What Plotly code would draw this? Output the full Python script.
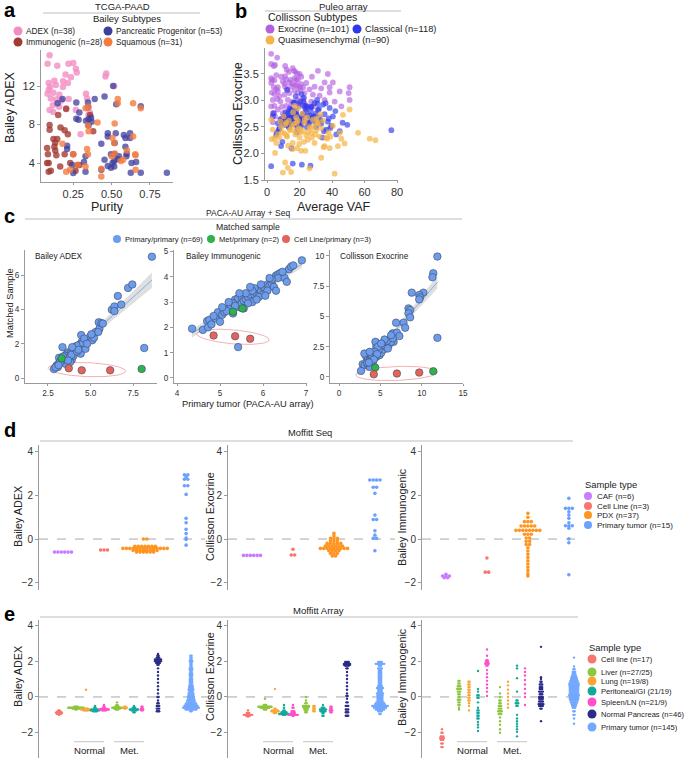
import numpy as np
import plotly.graph_objects as go

W, H = 685, 758
FONT = "Liberation Sans, Arial, Helvetica, sans-serif"

# ======================= DATA =======================
# ---- Panel a: TCGA-PAAD, Bailey subtypes (purity vs Bailey ADEX) ----
a_adex_purity = [0.096, 0.083, 0.146, 0.219, 0.267, 0.273, 0.235, 0.200, 0.183, 0.215,
                 0.127, 0.090, 0.100, 0.137, 0.183, 0.083, 0.121, 0.090, 0.160, 0.104,
                 0.140, 0.220, 0.173, 0.333, 0.340, 0.117, 0.158, 0.096, 0.120, 0.204,
                 0.267, 0.350, 0.298, 0.465, 0.460, 0.517, 0.358, 0.250]
a_adex_score = [15.2, 14.3, 14.1, 14.3, 13.8, 13.4, 12.9, 13.2, 12.5, 12.3,
                12.55, 12.3, 11.9, 12.1, 11.9, 11.2, 11.3, 11.6, 11.1, 10.7,
                10.6, 10.65, 10.5, 11.2, 10.7, 10.0, 9.85, 9.5, 9.3, 9.7,
                9.5, 9.0, 7.0, 13.3, 13.0, 12.0, 9.25, 14.4]
a_pp_purity = [0.51, 0.454, 0.39, 0.18, 0.148, 0.27, 0.346, 0.346, 0.29, 0.285,
               0.27, 0.333, 0.35, 0.366, 0.37, 0.35, 0.53, 0.69, 0.86, 0.527,
               0.475, 0.475, 0.59, 0.62, 0.62, 0.58, 0.433, 0.52, 0.21, 0.21,
               0.59, 0.496, 0.52, 0.548, 0.598, 0.596, 0.54, 0.517, 0.506, 0.454,
               0.475, 0.33, 0.32, 0.244, 0.33, 0.25, 0.433, 0.496, 0.63, 0.66,
               0.625, 0.69, 0.517]
a_pp_score = [12.0, 10.9, 10.65, 10.65, 10.2, 10.3, 10.3, 9.8, 9.25, 8.5,
              8.6, 8.4, 8.55, 8.7, 8.3, 7.9, 10.1, 9.9, 3.0, 7.1,
              7.1, 6.75, 6.6, 6.6, 7.1, 6.9, 6.0, 6.07, 5.8, 5.45,
              5.7, 4.9, 4.9, 4.7, 4.96, 4.7, 4.4, 4.2, 4.0, 4.35,
              3.7, 4.7, 4.1, 3.8, 3.1, 2.97, 3.3, 3.5, 4.0, 4.1,
              3.0, 3.0, 3.65]
a_imm_purity = [0.096, 0.096, 0.167, 0.152, 0.204, 0.194, 0.215, 0.121, 0.146, 0.08,
                0.127, 0.133, 0.085, 0.14, 0.194, 0.25, 0.08, 0.09, 0.165, 0.09,
                0.104, 0.23, 0.28, 0.29, 0.265, 0.38, 0.36, 0.133]
a_imm_score = [7.96, 7.45, 7.7, 9.0, 9.6, 7.4, 7.0, 6.5, 6.5, 5.55,
               5.7, 5.3, 4.9, 4.8, 4.9, 4.9, 4.0, 4.0, 3.65, 3.1,
               3.2, 4.0, 3.8, 3.8, 3.2, 7.3, 9.0, 6.1]
a_sq_purity = [0.54, 0.54, 0.64, 0.69, 0.33, 0.35, 0.346, 0.408, 0.35, 0.52,
               0.506, 0.517, 0.64, 0.34, 0.52, 0.50, 0.60, 0.654, 0.56, 0.575,
               0.656, 0.346, 0.204, 0.23, 0.279, 0.33, 0.433, 0.433, 0.656, 0.25,
               0.18]
a_sq_score = [10.65, 10.2, 10.2, 9.7, 9.7, 9.85, 7.9, 8.2, 7.3, 8.1,
              6.6, 6.07, 6.75, 5.45, 5.0, 4.7, 5.3, 4.9, 4.2, 4.35,
              4.8, 4.9, 3.1, 3.3, 3.8, 3.65, 3.4, 2.6, 3.3, 4.9,
              6.0]

# ---- Panel b: Puleo array, Collisson subtypes (average VAF vs Collisson Exocrine) ----
b_exo_vaf = [2.5, 6.2, 2.5, 4.1, 4.9, 11.1, 12.1, 13.4, 16.5, 17.5,
             18.5, 15.8, 20.0, 21.0, 31.3, 37.4, 2.5, 3.1, 4.5, 2.5,
             6.6, 4.1, 5.6, 9.7, 10.7, 11.1, 12.3, 13.8, 15.8, 17.3,
             18.5, 20.0, 21.0, 24.1, 27.6, 29.2, 35.4, 40.5, 44.7, 50.8,
             50.2, 38.5, 32.3, 28.2, 23.0, 18.9, 16.9, 13.8, 10.7, 7.6,
             4.5, 2.9, 3.5, 8.2, 12.8, 15.8, 18.9, 23.0, 27.2, 9.1,
             11.7, 14.8, 17.5, 20.0, 6.6, 3.5, 3.5, 9.7, 13.2, 16.9,
             22.0, 24.1, 28.2, 35.4, 41.6, 45.7, 50.8, 6.6, 11.7, 16.9,
             22.2, 5.6, 8.6, 14.4, 17.9, 11.1, 14.8, 18.9, 20.6, 26.1,
             38.5, 33.3, 6.2, 22.0, 4.9, 2.5, 4.5, 12.3, 8.6, 15.8,
             13.8]
b_exo_score = [3.88, 3.81, 3.69, 3.65, 3.67, 3.65, 3.58, 3.54, 3.56, 3.54,
               3.50, 3.61, 3.50, 3.45, 3.56, 3.50, 3.42, 3.39, 3.38, 3.33,
               3.25, 3.25, 3.21, 3.36, 3.31, 3.26, 3.21, 3.34, 3.31, 3.29,
               3.28, 3.25, 3.31, 3.33, 3.45, 3.26, 3.34, 3.34, 3.17, 3.25,
               3.14, 3.15, 3.09, 3.11, 3.14, 3.15, 3.19, 3.14, 3.11, 3.08,
               3.12, 3.15, 3.01, 2.98, 3.01, 2.98, 3.01, 2.95, 2.98, 2.88,
               2.90, 2.92, 2.84, 2.89, 2.83, 2.76, 2.59, 2.76, 2.81, 2.76,
               2.73, 2.83, 2.88, 3.01, 2.98, 2.89, 3.01, 3.17, 3.40, 3.42,
               3.25, 3.48, 3.45, 3.39, 3.39, 3.46, 3.26, 3.39, 3.21, 3.21,
               3.25, 3.23, 3.03, 3.04, 2.70, 2.89, 2.90, 2.70, 2.65, 2.65,
               2.58]
b_cls_vaf = [2.5, 15.8, 21.4, 26.7, 76.5, 49.4, 44.7, 8.6, 4.1, 9.7,
             11.1, 12.3, 13.8, 14.8, 15.8, 16.9, 17.9, 18.9, 20.0, 21.0,
             22.0, 23.0, 24.1, 25.1, 26.1, 27.2, 28.2, 29.2, 30.2, 31.3,
             32.3, 33.3, 34.4, 35.4, 36.4, 37.4, 38.5, 39.5, 40.5, 42.6,
             6.6, 7.6, 8.2, 9.1, 10.2, 10.7, 11.7, 12.8, 13.4, 14.4,
             15.2, 16.1, 17.1, 18.2, 19.1, 20.3, 21.6, 22.7, 23.8, 25.5,
             27.0, 28.8, 30.8, 33.0, 36.0, 38.9, 42.0, 46.5, 5.6, 7.2,
             8.9, 10.4, 12.0, 13.1, 14.0, 15.5, 16.6, 17.6, 18.6, 19.6,
             20.6, 22.3, 24.5, 26.4, 29.6, 31.9, 35.0, 3.5, 6.0, 9.4,
             11.4, 12.6, 14.6, 16.3, 18.0, 19.4, 21.2, 23.4, 25.8, 28.4,
             31.0, 34.0, 37.9, 11.9, 13.6, 16.8, 19.9, 22.9, 26.9, 9.9,
             14.2, 17.4, 20.8, 24.8, 30.0, 12.4, 18.4, 15.0]
b_cls_score = [1.76, 1.81, 1.79, 1.77, 2.44, 2.54, 2.42, 2.14, 2.76, 2.62,
               2.55, 2.68, 2.58, 2.62, 2.72, 2.55, 2.80, 2.60, 2.66, 2.52,
               2.75, 2.62, 2.90, 2.70, 2.58, 2.88, 2.64, 2.95, 2.50, 2.82,
               2.68, 2.56, 2.92, 2.74, 2.45, 2.60, 2.86, 2.52, 2.70, 2.36,
               2.57, 2.48, 2.65, 2.60, 2.70, 2.54, 2.63, 2.76, 2.50, 2.67,
               2.82, 2.58, 2.96, 2.72, 2.62, 2.98, 2.66, 3.05, 2.78, 2.56,
               2.88, 2.70, 3.01, 2.62, 2.95, 2.48, 2.80, 2.58, 2.35, 2.45,
               2.57, 2.70, 2.60, 2.53, 2.85, 2.64, 2.58, 3.08, 2.47, 2.92,
               2.55, 2.98, 2.50, 2.72, 2.60, 2.84, 2.42, 2.70, 2.40, 2.22,
               2.78, 2.66, 2.82, 2.96, 2.74, 2.54, 3.12, 2.86, 2.64, 2.70,
               2.94, 2.30, 2.66, 2.60, 2.49, 2.77, 2.68, 2.90, 2.80, 2.63,
               2.72, 2.55, 2.61, 2.88, 2.75, 3.20, 2.40, 2.10]
b_qm_vaf = [2.5, 3.5, 4.5, 2.9, 4.9, 11.1, 9.7, 14.8, 12.8, 26.1,
            33.3, 41.6, 56.0, 63.2, 66.7, 50.8, 46.7, 44.7, 45.7, 47.7,
            43.6, 35.4, 7.6, 8.6, 10.7, 11.7, 12.3, 13.4, 14.4, 15.8,
            16.5, 17.3, 17.9, 18.5, 19.4, 20.0, 21.0, 22.0, 23.0, 24.1,
            25.1, 26.1, 27.2, 28.2, 29.2, 30.2, 31.3, 32.3, 33.3, 34.4,
            36.4, 38.5, 40.5, 9.1, 10.2, 13.0, 15.2, 16.9, 18.9, 20.6,
            22.7, 24.6, 26.7, 29.7, 32.8, 36.9, 6.6, 8.2, 11.4, 14.0,
            17.6, 19.8, 21.6, 23.6, 27.6, 31.0, 34.8, 39.0, 12.0, 16.0,
            18.2, 20.3, 25.0, 28.7, 5.6, 19.0, 23.2, 30.5, 15.5, 37.8]
b_qm_score = [2.64, 2.45, 2.29, 2.27, 2.01, 1.83, 1.64, 1.65, 1.73, 1.72,
              1.92, 1.62, 2.39, 2.28, 2.25, 2.83, 2.73, 2.39, 2.28, 2.19,
              2.14, 2.14, 2.30, 2.50, 2.38, 2.58, 2.32, 2.62, 2.44, 2.20,
              2.56, 2.36, 2.68, 2.10, 2.48, 2.30, 2.05, 2.42, 2.58, 2.34,
              2.26, 2.50, 2.38, 2.64, 2.20, 2.44, 2.56, 2.32, 2.48, 2.62,
              2.30, 2.10, 2.52, 2.40, 2.70, 2.15, 2.52, 2.90, 2.62, 2.40,
              2.22, 2.68, 2.46, 2.36, 2.74, 2.28, 2.36, 2.60, 2.55, 2.45,
              2.42, 2.18, 2.75, 2.05, 2.30, 2.58, 2.12, 2.32, 2.34, 2.78,
              2.58, 2.46, 2.40, 2.52, 2.20, 2.85, 2.64, 2.66, 2.08, 2.40]

# ---- Panel c: PACA-AU array (primary tumor) vs matched sample ----
c_adex_pp_x = [2.85, 3.0, 3.1, 3.15, 3.35, 3.25, 3.45, 3.55, 3.65, 3.75,
               3.85, 3.98, 4.1, 4.17, 4.3, 4.37, 4.48, 4.42, 3.9, 3.8,
               3.52, 3.08, 4.67, 4.7, 4.98, 5.1, 5.2, 5.3, 5.48, 5.52,
               5.45, 5.63, 5.72, 6.25, 6.4, 6.4, 6.6, 6.8, 7.2, 7.45,
               8.6, 8.15, 3.6, 3.7, 3.82, 3.95, 4.05, 4.15, 4.25, 3.4,
               3.5, 3.3, 2.95, 3.2, 4.45, 4.55, 4.62, 4.0, 3.62, 3.72,
               3.88, 4.2, 4.28, 3.12, 3.38, 3.92, 4.8, 5.05, 3.68]
c_adex_pp_y = [0.52, 0.72, 0.82, 1.18, 1.8, 1.02, 1.06, 1.22, 1.32, 1.38,
               1.22, 1.5, 1.6, 1.7, 1.8, 1.95, 2.1, 1.42, 1.07, 0.93,
               0.83, 0.64, 1.95, 1.7, 2.42, 2.2, 2.35, 2.68, 3.25, 2.87,
               2.68, 3.2, 3.17, 3.98, 4.17, 3.9, 4.78, 4.28, 5.25, 5.45,
               7.07, 1.75, 1.4, 1.5, 1.45, 1.62, 1.75, 1.85, 1.9, 1.12,
               1.3, 1.0, 0.62, 0.9, 2.5, 2.05, 2.3, 1.3, 1.15, 1.2,
               1.35, 1.55, 1.65, 0.75, 1.25, 1.8, 2.0, 2.55, 1.02]
c_adex_met_x = [3.3, 8.0]
c_adex_met_y = [1.15, 0.53]
c_adex_cl_x = [3.72, 4.48, 6.15]
c_adex_cl_y = [0.57, 0.45, 0.45]

c_imm_pp_x = [4.35, 4.6, 4.7, 4.75, 4.72, 4.8, 4.9, 4.95, 5.05, 5.1,
              5.0, 5.2, 5.25, 5.3, 5.35, 5.4, 5.42, 5.5, 5.45, 5.5,
              5.55, 5.6, 5.65, 5.7, 5.75, 5.8, 5.85, 5.9, 5.95, 6.0,
              6.05, 6.1, 6.15, 6.2, 6.25, 6.3, 6.35, 6.4, 6.35, 6.5,
              6.6, 6.65, 6.7, 6.9, 5.42, 6.3, 6.0, 5.9, 5.65, 5.3,
              5.15, 5.6, 5.8, 6.1, 6.2, 5.75, 5.45, 5.35, 5.55, 5.05,
              6.45, 6.55, 5.85, 6.05, 5.2, 4.85, 5.7, 6.15, 5.95]
c_imm_pp_y = [1.95, 1.9, 2.25, 2.3, 2.0, 2.12, 2.35, 2.6, 2.5, 2.6,
              2.22, 2.75, 2.8, 2.55, 3.1, 3.0, 3.15, 3.2, 2.8, 2.95,
              3.05, 3.1, 3.2, 3.3, 3.0, 3.3, 3.35, 3.5, 3.45, 3.6,
              3.55, 3.7, 3.65, 3.75, 3.6, 4.05, 4.1, 4.15, 3.95, 3.95,
              4.3, 4.4, 4.45, 4.65, 1.22, 3.45, 3.3, 3.2, 2.95, 2.95,
              2.65, 3.35, 3.55, 3.45, 3.9, 3.45, 3.35, 2.85, 2.75, 2.8,
              4.2, 3.8, 3.1, 3.25, 3.0, 2.45, 3.6, 3.95, 3.7]
c_imm_met_x = [5.3, 5.52]
c_imm_met_y = [2.62, 2.75]
c_imm_cl_x = [4.85, 5.35, 5.7]
c_imm_cl_y = [1.68, 1.65, 1.55]

c_exo_pp_x = [11.9, 11.4, 11.3, 11.9, 8.8, 10.2, 9.7, 9.8, 9.7, 8.4,
              8.6, 8.4, 8.6, 7.8, 8.0, 6.9, 6.5, 6.4, 6.6, 6.1,
              5.9, 5.7, 5.5, 5.3, 5.1, 5.06, 4.5, 4.4, 4.7, 4.2,
              4.5, 4.9, 3.7, 3.3, 3.5, 3.75, 4.1, 3.9, 3.06, 2.86,
              3.1, 3.5, 2.65, 3.7, 4.4, 5.1, 5.4, 5.7, 6.0, 6.3,
              5.8, 5.2, 4.8, 4.7, 4.0, 4.3, 3.7, 3.4, 7.0, 7.3,
              5.5, 4.6, 3.9, 5.1, 6.5, 6.3, 5.9, 4.2, 3.6]
c_exo_pp_y = [9.94, 8.56, 8.23, 3.23, 6.96, 6.96, 6.77, 6.57, 6.4, 5.66,
              5.52, 5.25, 4.92, 4.48, 4.06, 4.48, 3.6, 3.3, 2.9, 3.04,
              2.76, 2.9, 2.7, 2.49, 2.35, 2.15, 2.49, 2.9, 2.07, 1.93,
              1.66, 1.8, 1.88, 1.66, 1.44, 1.44, 1.24, 1.66, 1.93, 1.05,
              0.97, 0.97, 0.5, 0.83, 1.66, 1.99, 2.27, 2.49, 2.62, 2.9,
              2.99, 2.62, 2.27, 2.49, 1.66, 2.07, 2.07, 1.16, 3.65, 3.37,
              3.09, 1.88, 1.3, 2.76, 3.2, 3.45, 2.35, 1.44, 1.19]
c_exo_met_x = [4.37, 11.4]
c_exo_met_y = [0.77, 0.47]
c_exo_cl_x = [4.2, 7.0, 9.7]
c_exo_cl_y = [0.22, 0.28, 0.36]

# ---- Panel d: Moffitt Seq dot plots, (score, number of stacked dots) per bin ----
d_categories = ["CAF", "Cell Line", "PDX", "Primary tumor"]
d_legend = ["CAF (n=6)", "Cell Line (n=3)", "PDX (n=37)", "Primary tumor (n=15)"]
d_adex = [
    [(-0.6, 6)],
    [(-0.5, 3)],
    [(0.0, 2), (-0.33, 7), (-0.43, 14), (-0.52, 8), (-0.6, 6)],
    [(2.95, 2), (2.85, 1), (2.75, 2), (2.45, 2), (2.05, 1), (0.95, 1), (0.75, 1),
     (0.45, 1), (0.25, 1), (0.05, 1), (-0.02, 1), (-0.28, 1)],
]
d_exo = [
    [(-0.75, 6)],
    [(-0.47, 1), (-0.73, 2)],
    [(0.26, 1), (0.14, 1), (0.03, 3), (-0.08, 3), (-0.2, 5), (-0.32, 6), (-0.43, 9),
     (-0.54, 4), (-0.66, 3), (-0.78, 2)],
    [(2.71, 4), (2.38, 2), (2.1, 1), (1.1, 1), (0.9, 2), (0.38, 1), (0.18, 1),
     (0.03, 2), (-0.54, 1)],
]
d_imm = [
    [(-1.62, 1), (-1.7, 3), (-1.78, 2)],
    [(-0.87, 1), (-1.52, 2)],
    [(1.18, 1), (1.0, 1), (0.8, 3), (0.6, 5), (0.4, 8), (0.22, 3), (0.05, 2), (-0.1, 2),
     (-0.25, 2), (-0.4, 1), (-0.55, 1), (-0.7, 1), (-0.85, 1), (-1.0, 1), (-1.15, 1),
     (-1.3, 1), (-1.45, 1), (-1.6, 1), (-1.7, 1)],
    [(1.87, 1), (1.41, 3), (1.25, 1), (1.1, 1), (0.95, 1), (0.75, 1), (0.61, 3),
     (0.5, 1), (0.01, 1), (-0.17, 1), (-1.64, 1)],
]

# ---- Panel e: Moffitt Array dot plots, (score, number of stacked dots) per bin ----
e_categories = ["Cell line", "Liver (normal)", "Lung (normal)", "Peritoneal/GI (normal)",
                "Spleen/LN (normal)", "Liver (met)", "Lung (met)", "Peritoneal/GI (met)",
                "Spleen/LN (met)", "Normal Pancreas", "Primary tumor"]
e_tissue = ["cell", "liver", "lung", "peri", "spleen", "liver", "lung", "peri", "spleen",
            "np", "pt"]
e_legend_keys = ["cell", "liver", "lung", "peri", "spleen", "np", "pt"]
e_legend = ["Cell line (n=17)", "Liver (n=27/25)", "Lung (n=19/8)", "Peritoneal/GI (21/19)",
            "Spleen/LN (n=21/9)", "Normal Pancreas (n=46)", "Primary tumor (n=145)"]
e_adex = [
    [(-0.75, 2), (-0.82, 4), (-0.88, 6), (-0.95, 4), (-1.0, 1)],
    [(-0.55, 4), (-0.6, 14), (-0.65, 7), (-0.7, 2)],
    [(0.4, 1), (-0.65, 4), (-0.7, 9), (-0.75, 5)],
    [(-0.5, 1), (-0.6, 2), (-0.7, 6), (-0.75, 8), (-0.8, 4)],
    [(-0.45, 1), (-0.55, 2), (-0.65, 5), (-0.7, 9), (-0.75, 4)],
    [(-0.3, 1), (-0.45, 2), (-0.55, 4), (-0.6, 9), (-0.65, 6), (-0.7, 3)],
    [(-0.55, 2), (-0.6, 4), (-0.65, 2)],
    [(-0.5, 1), (-0.6, 3), (-0.7, 8), (-0.75, 5), (-0.85, 2)],
    [(-0.55, 2), (-0.65, 2), (-0.7, 3), (-0.75, 2)],
    [(2.4, 1), (2.3, 2), (2.2, 3), (2.1, 6), (2.0, 6), (1.9, 4), (1.8, 2), (1.6, 1), (1.4, 1),
     (1.2, 1), (1.0, 1), (0.8, 1), (0.6, 1), (0.4, 1), (0.2, 1), (0.0, 2), (-0.2, 1),
     (-0.35, 2), (-0.5, 3), (-0.65, 3), (-0.8, 3)],
    [(2.3, 2), (2.2, 2), (2.1, 2), (2.0, 3), (1.9, 2), (1.8, 2), (1.7, 2), (1.6, 3), (1.5, 3),
     (1.4, 2), (1.3, 3), (1.2, 3), (1.1, 2), (1.0, 3), (0.9, 3), (0.8, 3), (0.7, 3), (0.6, 4),
     (0.5, 4), (0.4, 5), (0.3, 4), (0.2, 5), (0.1, 5), (0.0, 6), (-0.1, 6), (-0.2, 7),
     (-0.3, 8), (-0.4, 10), (-0.5, 12), (-0.6, 14), (-0.7, 10), (-0.8, 2)],
]
e_exo = [
    [(-0.75, 1), (-0.9, 3), (-1.0, 8), (-1.05, 4), (-1.1, 1)],
    [(-0.1, 1), (-0.45, 3), (-0.55, 12), (-0.6, 8), (-0.7, 3)],
    [(0.45, 1), (-0.65, 2), (-0.75, 6), (-0.8, 7), (-0.9, 3)],
    [(-0.45, 1), (-0.6, 1), (-0.75, 2), (-0.85, 5), (-0.95, 9), (-1.0, 3)],
    [(-0.45, 1), (-0.6, 2), (-0.8, 3), (-0.9, 4), (-1.0, 9), (-1.05, 2)],
    [(0.0, 1), (-0.2, 1), (-0.35, 2), (-0.5, 6), (-0.55, 6), (-0.65, 4), (-0.75, 3), (-0.85, 2)],
    [(-0.5, 2), (-0.6, 2), (-0.7, 2), (-0.8, 2)],
    [(-0.45, 1), (-0.6, 3), (-0.7, 6), (-0.8, 5), (-0.9, 2), (-1.05, 2)],
    [(-0.55, 2), (-0.65, 2), (-0.75, 3), (-0.85, 2)],
    [(1.95, 4), (1.85, 6), (1.8, 6), (1.75, 4), (1.6, 2), (1.4, 1), (1.2, 1), (1.0, 1), (0.8, 1),
     (0.6, 1), (0.4, 1), (0.2, 1), (0.05, 2), (-0.1, 1), (-0.3, 2), (-0.5, 3), (-0.7, 3),
     (-0.85, 3), (-1.05, 3)],
    [(1.95, 4), (1.85, 8), (1.75, 3), (1.6, 4), (1.5, 3), (1.4, 3), (1.3, 3), (1.2, 3), (1.1, 3),
     (1.0, 3), (0.9, 3), (0.8, 3), (0.7, 3), (0.6, 4), (0.5, 6), (0.4, 4), (0.3, 4), (0.2, 6),
     (0.1, 5), (0.0, 5), (-0.1, 5), (-0.2, 5), (-0.3, 7), (-0.4, 9), (-0.5, 14), (-0.6, 11),
     (-0.7, 8), (-0.8, 4), (-0.95, 2)],
]
e_imm = [
    [(-1.8, 1), (-2.0, 2), (-2.2, 3), (-2.3, 4), (-2.4, 3), (-2.6, 2), (-2.8, 2)],
    [(0.9, 2), (0.75, 2), (0.6, 3), (0.45, 4), (0.3, 3), (0.15, 2), (0.0, 2), (-0.15, 3),
     (-0.3, 2), (-0.45, 2), (-0.6, 1), (-0.7, 1)],
    [(0.85, 2), (0.7, 2), (0.55, 2), (0.4, 2), (0.25, 2), (0.1, 2), (-0.05, 2), (-0.2, 2),
     (-0.35, 1), (-0.5, 1), (-0.75, 1)],
    [(1.45, 1), (0.45, 1), (0.3, 1), (0.1, 2), (-0.05, 2), (-0.3, 1), (-0.6, 1), (-0.75, 2),
     (-0.9, 2), (-1.05, 2), (-1.2, 2), (-1.4, 1), (-1.55, 1), (-1.7, 1), (-1.9, 1)],
    [(2.65, 1), (2.3, 1), (2.05, 2), (1.95, 3), (1.85, 4), (1.75, 2), (1.5, 1), (1.3, 1),
     (1.1, 1), (0.9, 1), (0.7, 1), (0.5, 1), (0.3, 1), (0.05, 1)],
    [(0.55, 1), (0.2, 1), (0.0, 1), (-0.2, 2), (-0.35, 2), (-0.5, 3), (-0.65, 3), (-0.8, 4),
     (-0.95, 3), (-1.15, 1), (-1.35, 1), (-1.55, 1), (-1.8, 1), (-2.0, 1)],
    [(0.85, 1), (0.65, 1), (0.4, 1), (0.2, 1), (0.0, 1), (-0.2, 1), (-0.4, 1), (-0.6, 1)],
    [(1.75, 1), (1.6, 1), (1.05, 1), (0.3, 1), (-0.2, 2), (-0.35, 3), (-0.5, 2), (-1.0, 1),
     (-1.2, 1), (-1.35, 1), (-1.5, 1), (-1.65, 1), (-1.8, 1), (-1.95, 1), (-2.2, 1)],
    [(1.6, 1), (1.4, 1), (1.2, 1), (0.95, 1), (0.7, 1), (0.45, 1), (0.2, 1), (0.0, 1), (-0.45, 1)],
    [(2.8, 1), (1.1, 1), (1.0, 1), (0.85, 2), (0.7, 3), (0.55, 3), (0.45, 3), (0.3, 4), (0.15, 3),
     (0.0, 4), (-0.1, 4), (-0.25, 4), (-0.4, 5), (-0.5, 4), (-0.65, 2), (-1.35, 1)],
    [(2.2, 1), (1.7, 1), (1.55, 2), (1.4, 3), (1.3, 3), (1.2, 4), (1.1, 5), (1.0, 6), (0.9, 7),
     (0.8, 8), (0.7, 9), (0.6, 8), (0.5, 8), (0.4, 8), (0.3, 8), (0.2, 8), (0.1, 9), (0.0, 8),
     (-0.1, 8), (-0.2, 7), (-0.3, 6), (-0.4, 5), (-0.5, 4), (-0.6, 3), (-0.8, 2), (-1.0, 2),
     (-1.2, 1), (-1.5, 1)],
]

# ======================= STYLE / LAYOUT CONSTANTS =======================
A_COL = {"adex": "#F28DC3", "pp": "#3E3E9E", "imm": "#A33A33", "sq": "#F57B3E"}
B_COL = {"exo": "#B35FE0", "cls": "#3039EA", "qm": "#F5B445"}
C_COL = {"pp": "#6C9CEB", "met": "#2DB34A", "cl": "#E5645A"}
D_COL = ["#C97CFF", "#F8766D", "#FF941F", "#6AA0FF"]
E_COL = {"cell": "#F8766D", "liver": "#8DC63F", "lung": "#F8A736", "peri": "#12A99B",
         "spleen": "#FF4FCB", "np": "#2B2B88", "pt": "#72A8FF"}
AXCOL = "#9a9a9a"
TXT = "#222222"

# panel geometry in pixels: x-domain, y-domain (top, bottom), ranges
panels = {
    "a":  dict(xd=(41, 173), yd=(50, 182), xr=(0.04, 0.9), yr=(2.03, 15.74)),
    "b":  dict(xd=(265, 398), yd=(48, 180), xr=(-1.3, 80.6), yr=(1.5, 3.99)),
    "c1": dict(xd=(25, 157), yd=(250, 383), xr=(1.15, 8.9), yr=(-0.29, 7.46)),
    "c2": dict(xd=(174, 307), yd=(250, 383), xr=(3.93, 7.02), yr=(-0.2, 5.06)),
    "c3": dict(xd=(330, 463), yd=(250, 383), xr=(-1.1, 15.0), yr=(-0.5, 10.48)),
    "d1": dict(xd=(39, 205), yd=(445, 590), xr=(0.415, 4.46), yr=(-2.34, 4.32)),
    "d2": dict(xd=(228, 395), yd=(445, 590), xr=(0.415, 4.49), yr=(-2.34, 4.32)),
    "d3": dict(xd=(422, 575), yd=(445, 590), xr=(0.415, 4.15), yr=(-2.34, 4.32)),
    "e1": dict(xd=(39, 209), yd=(620, 758), xr=(0, 170), yr=(-3.41, 4.3)),
    "e2": dict(xd=(228, 398), yd=(620, 758), xr=(0, 170), yr=(-3.41, 4.3)),
    "e3": dict(xd=(422, 582), yd=(620, 758), xr=(0, 160), yr=(-3.41, 4.3)),
}
order = ["a", "b", "c1", "c2", "c3", "d1", "d2", "d3", "e1", "e2", "e3"]
E_POS = [20, 37, 47, 56, 65, 78, 86, 95, 103, 119, 152]   # category slots in e panels
D_SPACING = 0.083
E_SPACING = 1.2


def px(x):
    return x / W


def py(y):
    return 1 - y / H


ref = {}
for i, k in enumerate(order, start=1):
    ref[k] = ("x" if i == 1 else f"x{i}", "y" if i == 1 else f"y{i}", i)

fig = go.Figure()


def scat(panel, x, y, color, size, opacity=1.0, line=None, mode="markers"):
    xa, ya, _ = ref[panel]
    mk = dict(color=color, size=size, opacity=opacity)
    if line:
        mk["line"] = line
    else:
        mk["line"] = dict(width=0)
    fig.add_trace(go.Scatter(x=x, y=y, mode=mode, marker=mk, xaxis=xa, yaxis=ya,
                             showlegend=False, hoverinfo="skip"))


def dot_xy(bins, center, spacing):
    xs, ys = [], []
    for v, n in bins:
        for j in range(n):
            xs.append(center + (j - (n - 1) / 2) * spacing)
            ys.append(v)
    return xs, ys


# ---- panel a ----
scat("a", a_adex_purity, a_adex_score, A_COL["adex"], 6.5, 0.8)
scat("a", a_imm_purity, a_imm_score, A_COL["imm"], 6.5, 0.8)
scat("a", a_pp_purity, a_pp_score, A_COL["pp"], 6.5, 0.75)
scat("a", a_sq_purity, a_sq_score, A_COL["sq"], 6.5, 0.8)

# ---- panel b ----
scat("b", b_exo_vaf, b_exo_score, B_COL["exo"], 5.8, 0.65)
scat("b", b_cls_vaf, b_cls_score, B_COL["cls"], 5.8, 0.65)
scat("b", b_qm_vaf, b_qm_score, B_COL["qm"], 5.8, 0.7)


# ---- panel c ----
def lm_band(x, y):
    x = np.asarray(x, float)
    y = np.asarray(y, float)
    n = len(x)
    b1, b0 = np.polyfit(x, y, 1)
    xs = np.linspace(x.min(), x.max(), 60)
    yh = b0 + b1 * xs
    s = np.sqrt(np.sum((y - (b0 + b1 * x)) ** 2) / (n - 2))
    sxx = np.sum((x - x.mean()) ** 2)
    se = s * np.sqrt(1 / n + (xs - x.mean()) ** 2 / sxx)
    return xs, yh, yh - 1.996 * se, yh + 1.996 * se


def ellipse_around(panel, xr, yr, pad_px=18, half_h_px=7):
    p = panels[panel]
    sx = (p["xd"][1] - p["xd"][0]) / (p["xr"][1] - p["xr"][0])
    sy = (p["yd"][1] - p["yd"][0]) / (p["yr"][1] - p["yr"][0])
    cx, cy = np.mean(xr), np.mean(yr)
    X = (np.asarray(xr) - cx) * sx
    Y = (np.asarray(yr) - cy) * sy
    ang = np.arctan(np.sum(X * Y) / np.sum(X * X))
    hw = (X.max() - X.min()) / 2 + pad_px
    t = np.linspace(0, 2 * np.pi, 120)
    u, v = hw * np.cos(t), half_h_px * np.sin(t)
    xp = u * np.cos(ang) - v * np.sin(ang)
    yp = u * np.sin(ang) + v * np.cos(ang)
    return cx + xp / sx, cy + yp / sy


for pan, (ppx, ppy, mx, my, clx, cly) in {
    "c1": (c_adex_pp_x, c_adex_pp_y, c_adex_met_x, c_adex_met_y, c_adex_cl_x, c_adex_cl_y),
    "c2": (c_imm_pp_x, c_imm_pp_y, c_imm_met_x, c_imm_met_y, c_imm_cl_x, c_imm_cl_y),
    "c3": (c_exo_pp_x, c_exo_pp_y, c_exo_met_x, c_exo_met_y, c_exo_cl_x, c_exo_cl_y),
}.items():
    xa, ya, _ = ref[pan]
    xs, yh, lo, hi = lm_band(ppx, ppy)
    fig.add_trace(go.Scatter(x=np.concatenate([xs, xs[::-1]]), y=np.concatenate([hi, lo[::-1]]),
                             fill="toself", fillcolor="rgba(175,175,175,0.40)",
                             line=dict(width=0), mode="lines", xaxis=xa, yaxis=ya,
                             showlegend=False, hoverinfo="skip"))
    fig.add_trace(go.Scatter(x=xs, y=yh, mode="lines", line=dict(color="#86AEEA", width=1),
                             xaxis=xa, yaxis=ya, showlegend=False, hoverinfo="skip"))
    ex, ey = ellipse_around(pan, clx, cly)
    fig.add_trace(go.Scatter(x=ex, y=ey, mode="lines",
                             line=dict(color="rgba(236,125,125,0.6)", width=1),
                             xaxis=xa, yaxis=ya, showlegend=False, hoverinfo="skip"))
    ol = dict(color="#3a4a66", width=0.6)
    scat(pan, ppx, ppy, C_COL["pp"], 7.5, 1.0, line=ol)
    scat(pan, mx, my, C_COL["met"], 7.5, 1.0, line=ol)
    scat(pan, clx, cly, C_COL["cl"], 7.5, 1.0, line=ol)

# ---- panel d ----
for pan, data in (("d1", d_adex), ("d2", d_exo), ("d3", d_imm)):
    for ci, bins in enumerate(data):
        xs, ys = dot_xy(bins, ci + 1, D_SPACING)
        scat(pan, xs, ys, D_COL[ci], 3.6)

# ---- panel e ----
for pan, data in (("e1", e_adex), ("e2", e_exo), ("e3", e_imm)):
    for ci, bins in enumerate(data):
        xs, ys = dot_xy(bins, E_POS[ci], E_SPACING)
        scat(pan, xs, ys, E_COL[e_tissue[ci]], 2.4)

# ======================= AXES =======================
layout = dict(width=W, height=H, margin=dict(l=0, r=0, t=0, b=0), template="none",
              paper_bgcolor="white", plot_bgcolor="rgba(0,0,0,0)",
              font=dict(family=FONT, color=TXT), showlegend=False)

tick_cfg = {
    "a": dict(x=dict(tickvals=[0.25, 0.5, 0.75], ticktext=["0.25", "0.50", "0.75"]),
              y=dict(tickvals=[4, 8, 12]), fs=11),
    "b": dict(x=dict(tickvals=[0, 20, 40, 60, 80]),
              y=dict(tickvals=[1.5, 2.0, 2.5, 3.0, 3.5], ticktext=["1.5", "2.0", "2.5", "3.0", "3.5"]),
              fs=11),
    "c1": dict(x=dict(tickvals=[2.5, 5.0, 7.5], ticktext=["2.5", "5.0", "7.5"]),
               y=dict(tickvals=[0, 2, 4, 6]), fs=8.2),
    "c2": dict(x=dict(tickvals=[4, 5, 6, 7]), y=dict(tickvals=[0, 1, 2, 3, 4, 5]), fs=8.2),
    "c3": dict(x=dict(tickvals=[0, 5, 10, 15]),
               y=dict(tickvals=[0, 2.5, 5, 7.5, 10], ticktext=["0", "2.5", "5", "7.5", "10"]),
               fs=8.2),
}
for k in order:
    xa, ya, i = ref[k]
    p = panels[k]
    xkey = "xaxis" if i == 1 else f"xaxis{i}"
    ykey = "yaxis" if i == 1 else f"yaxis{i}"
    base = dict(showgrid=False, zeroline=False, showline=True, linecolor=AXCOL, linewidth=1,
                ticks="outside", ticklen=3, tickcolor=AXCOL, automargin=False, fixedrange=True)
    xd = dict(base, domain=[px(p["xd"][0]), px(p["xd"][1])], range=list(p["xr"]), anchor=ya)
    yd = dict(base, domain=[py(p["yd"][1]), py(p["yd"][0])], range=list(p["yr"]), anchor=xa)
    if k in tick_cfg:
        fs = tick_cfg[k]["fs"]
        xd.update(tick_cfg[k]["x"], tickmode="array", tickfont=dict(size=fs, color="#333"),
                  ticklen=2)
        yd.update(tick_cfg[k]["y"], tickmode="array", tickfont=dict(size=fs, color="#333"))
    else:
        xd.update(showline=False, showticklabels=False, ticks="")
        yd.update(tickmode="array", tickvals=[-2, 0, 2, 4], tickfont=dict(size=10, color="#333"))
    layout[xkey] = xd
    layout[ykey] = yd
fig.update_layout(**layout)

# ======================= ANNOTATIONS & SHAPES =======================
ann = []
shapes = []


def text(x, y, s, size, xanchor="center", yanchor="middle", angle=0, bold=False, color=TXT):
    ann.append(dict(x=px(x), y=py(y), xref="paper", yref="paper", text=f"<b>{s}</b>" if bold else s,
                    showarrow=False, xanchor=xanchor, yanchor=yanchor, textangle=angle,
                    font=dict(size=size, family=FONT, color=color)))


def hline(x0, x1, y, color="#bdbdbd", width=1):
    shapes.append(dict(type="line", xref="paper", yref="paper", x0=px(x0), x1=px(x1),
                       y0=py(y), y1=py(y), line=dict(color=color, width=width)))


def dot(cx, cy, r, color):
    shapes.append(dict(type="circle", xref="paper", yref="paper", x0=px(cx - r), x1=px(cx + r),
                       y0=py(cy + r), y1=py(cy - r), fillcolor=color, line=dict(width=0)))


# panel letters
for s, x, y in (("a", 2, 10), ("b", 233, 11), ("c", 2, 216), ("d", 2, 430), ("e", 2, 614)):
    text(x, y, s, 20, xanchor="left", bold=True, color="#000")

# --- a header / legend ---
text(122, 6, "TCGA-PAAD", 9.5)
hline(43, 200, 13)
text(127, 19, "Bailey Subtypes", 9.5)
for (cx, cy, col, lab) in ((18, 31, A_COL["adex"], "ADEX (n=38)"),
                           (108, 31, A_COL["pp"], "Pancreatic Progenitor (n=53)"),
                           (18, 42, A_COL["imm"], "Immunogenic (n=28)"),
                           (108, 42, A_COL["sq"], "Squamous (n=31)")):
    dot(cx, cy, 4.5, col)
    text(cx + 6, cy, lab, 8.3, xanchor="left")
text(10, 107, "Bailey ADEX", 12.5, angle=-90)
text(107, 207, "Purity", 12.5)

# --- b header / legend ---
text(343, 6, "Puleo array", 9.5)
hline(265, 401, 11)
text(266, 17, "Collisson Subtypes", 10.5, xanchor="left")
for (cx, cy, col, lab) in ((270, 29, B_COL["exo"], "Exocrine (n=101)"),
                           (357, 29, B_COL["cls"], "Classical (n=118)"),
                           (270, 40, B_COL["qm"], "Quasimesenchymal (n=90)")):
    dot(cx, cy, 4.5, col)
    text(cx + 6, cy, lab, 9.3, xanchor="left")
text(238, 114, "Collisson Exocrine", 12.5, angle=-90)
text(334, 207, "Average VAF", 12.5)

# --- c header / legend ---
text(248, 213, "PACA-AU Array + Seq", 8.5)
hline(25, 462, 219)
text(248, 227, "Matched sample", 8.7)
for (cx, col, lab) in ((117, C_COL["pp"], "Primary/primary (n=69)"),
                       (211, C_COL["met"], "Met/primary (n=2)"),
                       (286, C_COL["cl"], "Cell Line/primary (n=3)")):
    dot(cx, 239, 4, col)
    text(cx + 6, 239, lab, 7.6, xanchor="left")
text(33, 256, "Bailey ADEX", 8.3, xanchor="left")
text(184, 256, "Bailey Immunogenic", 8.3, xanchor="left")
text(338, 256, "Collisson Exocrine", 8.3, xanchor="left")
text(10, 303, "Matched Sample", 9.3, angle=-90)
text(248, 404, "Primary tumor (PACA-AU array)", 9.3)

# --- d header / legend ---
text(310, 433, "Moffitt Seq", 9.3)
hline(40, 573, 441)
for x, lab in ((18, "Bailey ADEX"), (210, "Collisson Exocrine"), (402, "Bailey Immunogenic")):
    text(x, 517, lab, 10.8, angle=-90)
text(583, 484, "Sample type", 9.4, xanchor="left")
for j, yv in enumerate((496, 506, 515, 525)):
    dot(588, yv, 4, D_COL[j])
    text(595, yv, d_legend[j], 8, xanchor="left")

# --- e header / legend ---
text(318, 610, "Moffitt Array", 9.5)
hline(40, 578, 617)
for x, lab in ((18, "Bailey ADEX"), (210, "Collisson Exocrine"), (402, "Bailey Immunogenic")):
    text(x, 677, lab, 10.8, angle=-90)
text(587, 647, "Sample type", 9.4, xanchor="left")
for j, yv in enumerate((659, 672, 681, 691, 702, 714, 727)):
    dot(592, yv, 4.5, E_COL[e_legend_keys[j]])
    text(599, yv, e_legend[j], 7.6, xanchor="left")

# dashed zero lines (d, e) and Normal / Met. group markers (e)
for k in ("d1", "d2", "d3", "e1", "e2", "e3"):
    xa, ya, _ = ref[k]
    shapes.append(dict(type="line", xref=f"{xa} domain", yref=ya, x0=0, x1=1, y0=0, y1=0,
                       line=dict(color="#a8a8a8", width=1, dash="dash"), layer="below"))
for k in ("e1", "e2", "e3"):
    xa, ya, _ = ref[k]
    for x0, x1, lab in ((35, 65, "Normal"), (75, 105, "Met.")):
        shapes.append(dict(type="line", xref=xa, yref=ya, x0=x0, x1=x1, y0=-2.5, y1=-2.5,
                           line=dict(color="#c4c4c4", width=1)))
        ann.append(dict(x=(x0 + x1) / 2, y=-3.0, xref=xa, yref=ya, text=lab, showarrow=False,
                        xanchor="center", yanchor="middle",
                        font=dict(size=9.6, family=FONT, color=TXT)))

fig.update_layout(annotations=ann, shapes=shapes)
fig.write_html("out.html", config={"displayModeBar": False, "staticPlot": True},
               post_script="document.body.style.margin='0';document.body.style.padding='0';"
                           "document.body.style.overflow='hidden';")
